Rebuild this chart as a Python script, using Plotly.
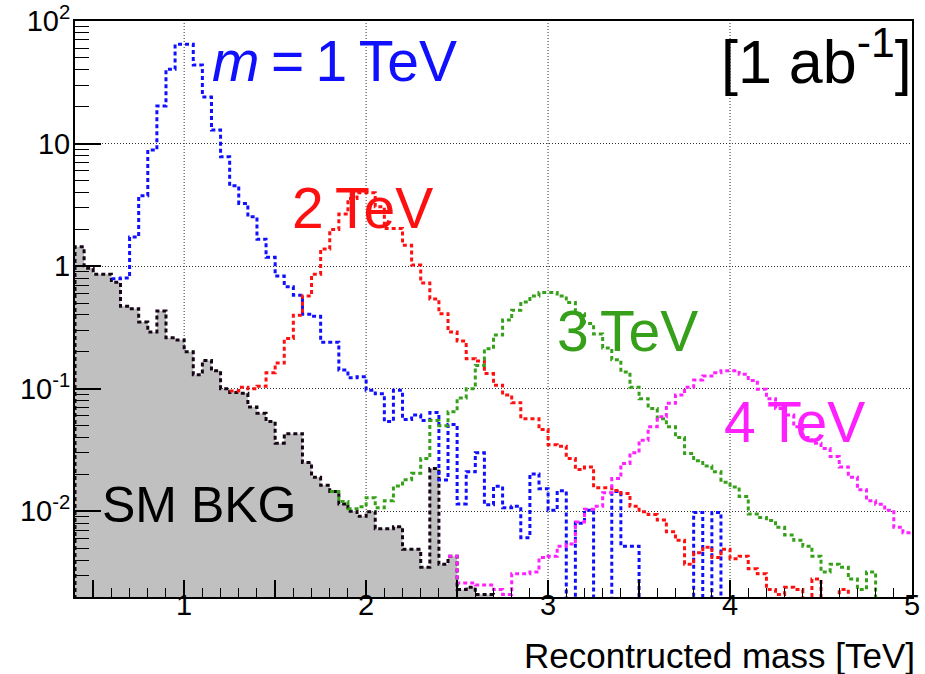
import numpy as np
import plotly.graph_objects as go

# Histogram binning (TeV)
BIN_WIDTH = 0.05

# SM background, bins starting at 0.40 TeV
bkg_start = 0.40
bkg_vals = [1.44, 0.96, 0.86, 0.86, 0.74, 0.47, 0.45, 0.35, 0.29, 0.43,
            0.26, 0.25, 0.20, 0.13, 0.17, 0.14, 0.10, 0.093, 0.092, 0.071,
            0.063, 0.054, 0.036, 0.043, 0.043, 0.025, 0.019, 0.0163, 0.0145, 0.0115,
            0.010, 0.0091, 0.0099, 0.0072, 0.0072, 0.0075, 0.0049, 0.0049, 0.0035, 0.0223,
            0.0037, 0.0043, 0.0023, 0.0024, 0.0021, 0.0021]

# Signal m = 1 TeV, bins starting at 0.60 TeV
m1_start = 0.60
m1_vals = [0.79, 0.80, 1.73, 3.75, 8.85, 20.3, 40.4, 64.5, 64.5, 43.7,
           24.0, 12.9, 7.8, 4.52, 3.25, 2.53, 1.66, 1.18, 0.83, 0.68,
           0.58, 0.406, 0.39, 0.24, 0.24, 0.142, 0.123, 0.125, 0.097, 0.091,
           0.054, 0.097, 0.056, 0.061, 0.055, 0.064, 0.018, 0.051, 0.0115, 0.021,
           0.030, 0.0113, 0.016, 0.0107, 0.011, 0.0061, 0.0202, 0.0153, 0.0102, 0.0147,
           0.0, 0.008, 0.0102, 0.0, 0.0, 0.0145, 0.0052, 0.0052, 0.0, 0.0,
           0.0, 0.0, 0.0, 0.0, 0.0098, 0.0, 0.0098, 0.0]

# Signal m = 2 TeV, bins starting at 1.25 TeV
m2_start = 1.25
m2_vals = [0.096, 0.103, 0.100, 0.105, 0.135, 0.162, 0.257, 0.398, 0.57, 0.86,
           1.38, 1.99, 2.66, 3.57, 3.97, 3.97, 3.05, 2.03, 2.03, 1.48,
           1.02, 0.73, 0.54, 0.41, 0.29, 0.245, 0.176, 0.168, 0.133, 0.107,
           0.089, 0.077, 0.057, 0.057, 0.0465, 0.035, 0.034, 0.027, 0.0219, 0.023,
           0.0156, 0.0156, 0.0148, 0.014, 0.011, 0.0099, 0.0094, 0.0085, 0.0068, 0.0058,
           0.0037, 0.0046, 0.0051, 0.0042, 0.0049, 0.0041, 0.0043, 0.0034, 0.0031, 0.0023,
           0.0021, 0.0024, 0.0023, 0.0, 0.0028, 0.0, 0.0, 0.0023, 0.0]

# Signal m = 3 TeV, bins starting at 1.80 TeV
m3_start = 1.80
m3_vals = [0.0145, 0.012, 0.0105, 0.0109, 0.0129, 0.0107, 0.0122, 0.0161, 0.0181, 0.0204,
           0.027, 0.055, 0.050, 0.065, 0.084, 0.100, 0.155, 0.212, 0.274, 0.363,
           0.437, 0.51, 0.57, 0.61, 0.61, 0.57, 0.505, 0.41, 0.34, 0.28,
           0.215, 0.172, 0.137, 0.103, 0.083, 0.069, 0.057, 0.049, 0.040, 0.0296,
           0.0258, 0.0234, 0.021, 0.0173, 0.0158, 0.0132, 0.0095, 0.0089, 0.0084, 0.0074,
           0.0064, 0.0058, 0.0052, 0.0043, 0.0032, 0.0037, 0.0035, 0.0028, 0.0023, 0.0032,
           0.0]

# Signal m = 4 TeV, bins starting at 2.45 TeV
m4_start = 2.45
m4_vals = [0.0043, 0.0026, 0.0026, 0.0025, 0.0025, 0.0023, 0.0021, 0.0031, 0.0031, 0.0032,
           0.0042, 0.0043, 0.0052, 0.0054, 0.0082, 0.0104, 0.011, 0.0142, 0.0185, 0.0245,
           0.030, 0.038, 0.049, 0.059, 0.076, 0.089, 0.103, 0.118, 0.127, 0.135,
           0.14, 0.14, 0.131, 0.117, 0.099, 0.083, 0.069, 0.061, 0.049, 0.040,
           0.036, 0.0326, 0.028, 0.023, 0.019, 0.015, 0.0122, 0.0114, 0.0102, 0.0074,
           0.0067]

# Axis settings
X_RANGE = [0.4, 5.0]
Y_MIN, Y_MAX = 0.002, 100.0
y_major = [0.01, 0.1, 1, 10, 100]
y_major_text = ["10<sup>-2</sup>", "10<sup>-1</sup>", "1", "10", "10<sup>2</sup>"]
x_label_vals = [1, 2, 3, 4, 5]

FLOOR = 1e-5  # empty bins are drawn down past the bottom of the log axis
FONT = "Liberation Sans, Arial, sans-serif"
DASH = "4px,3px"


def step_xy(start, vals):
    """Bin edges and contents laid out for an 'hv' step line."""
    n = len(vals)
    edges = start + BIN_WIDTH * np.arange(n + 1)
    y = [v if v > 0 else FLOOR for v in vals]
    return edges, y + [y[-1]]


fig = go.Figure()

# Background: grey filled histogram with dark dotted outline
bx, by = step_xy(bkg_start, bkg_vals)
fig.add_trace(go.Scatter(
    x=[bx[0]] + list(bx) + [bx[-1]],
    y=[FLOOR] + list(by) + [FLOOR],
    mode="lines", line_shape="hv", fill="toself", fillcolor="#c0c0c0",
    line=dict(color="#150515", width=3, dash=DASH),
    hoverinfo="skip", showlegend=False,
))

signals = [
    (m1_start, m1_vals, "#1010ff"),
    (m2_start, m2_vals, "#ff1010"),
    (m3_start, m3_vals, "#36a01a"),
    (m4_start, m4_vals, "#ff20ff"),
]
for start, vals, color in signals:
    sx, sy = step_xy(start, vals)
    fig.add_trace(go.Scatter(
        x=sx, y=sy, mode="lines", line_shape="hv",
        line=dict(color=color, width=3, dash=DASH),
        hoverinfo="skip", showlegend=False,
    ))

# Vertical dotted grid at the labelled x values (below the histograms)
shapes = []
for xv in x_label_vals[:-1]:
    shapes.append(dict(type="line", xref="x", yref="paper", x0=xv, x1=xv, y0=0, y1=1,
                       line=dict(color="#333333", width=1, dash="1px,2px"), layer="below"))

annotations = [
    dict(text="<i>m</i>\u2009=\u20091\u2009TeV", x=1.143, y=np.log10(46.8), xref="x", yref="y",
         xanchor="left", yanchor="middle", showarrow=False,
         font=dict(family=FONT, size=57, color="#1010ff")),
    dict(text="2\u2009TeV", x=1.582, y=np.log10(2.96), xref="x", yref="y",
         xanchor="left", yanchor="middle", showarrow=False,
         font=dict(family=FONT, size=57, color="#ff1010")),
    dict(text="3\u2009TeV", x=3.038, y=np.log10(0.294), xref="x", yref="y",
         xanchor="left", yanchor="middle", showarrow=False,
         font=dict(family=FONT, size=57, color="#36a01a")),
    dict(text="4\u2009TeV", x=3.956, y=np.log10(0.0532), xref="x", yref="y",
         xanchor="left", yanchor="middle", showarrow=False,
         font=dict(family=FONT, size=57, color="#ff20ff")),
    dict(text="SM BKG", x=0.538, y=np.log10(0.0112), xref="x", yref="y",
         xanchor="left", yanchor="middle", showarrow=False,
         font=dict(family=FONT, size=50, color="black")),
    dict(text="[1 ab<sup>-1</sup>]", x=1.002, y=0.937, xref="paper", yref="paper",
         xanchor="right", yanchor="middle", showarrow=False,
         font=dict(family=FONT, size=61, color="black")),
    dict(text="Recontructed mass [TeV]", x=1.006, y=-0.102, xref="paper", yref="paper",
         xanchor="right", yanchor="middle", showarrow=False,
         font=dict(family=FONT, size=35, color="black")),
]

y_minor = [m * 10.0 ** e for e in range(-3, 2) for m in range(2, 10)]

fig.update_layout(
    width=925, height=674,
    margin=dict(l=75, r=13, t=21, b=77),
    paper_bgcolor="white", plot_bgcolor="white",
    shapes=shapes, annotations=annotations,
    xaxis=dict(
        range=X_RANGE, showgrid=False, zeroline=False, automargin=False,
        showline=True, linecolor="black", linewidth=2, mirror=True,
        tickmode="array",
        tickvals=[0.5 * k for k in range(1, 11)],
        ticktext=["" if k % 2 else str(k // 2) for k in range(1, 11)],
        ticks="inside", ticklen=17, tickwidth=1.5, tickcolor="black",
        minor=dict(ticks="inside", ticklen=9, tickwidth=1.2, tickcolor="black",
                   dtick=0.1, tick0=0, showgrid=False),
        tickfont=dict(family=FONT, size=29, color="black"),
        ticklabelstandoff=-19,
    ),
    yaxis=dict(
        type="log", range=[np.log10(Y_MIN), np.log10(Y_MAX)], automargin=False,
        showline=True, linecolor="black", linewidth=2, mirror=True, zeroline=False,
        tickmode="array", tickvals=y_major, ticktext=y_major_text,
        ticks="inside", ticklen=26, tickwidth=1.5, tickcolor="black",
        showgrid=True, gridcolor="#333333", gridwidth=1, griddash="1px,2px",
        minor=dict(ticks="inside", ticklen=14, tickwidth=1.2, tickcolor="black",
                   tickmode="array", tickvals=y_minor, showgrid=False),
        tickfont=dict(family=FONT, size=29, color="black"),
        ticklabelstandoff=-3,
    ),
)

fig.write_html("out.html")
